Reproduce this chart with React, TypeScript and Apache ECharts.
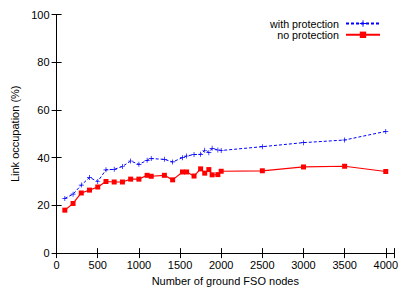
import React, { useEffect, useRef } from "react";
import * as echarts from "echarts";

const xWith = [100, 200, 300, 400, 500, 600, 700, 800, 900, 1000, 1100, 1150, 1310, 1410, 1530, 1580, 1670, 1750, 1800, 1850, 1890, 1960, 2000, 2500, 3000, 3500, 4000];
const withProtection = [22.9, 24.7, 28.5, 31.7, 30.0, 34.9, 35.1, 36.3, 38.6, 37.2, 38.9, 39.6, 39.3, 38.2, 40.0, 40.7, 41.3, 41.4, 43.1, 42.1, 43.9, 43.2, 43.0, 44.6, 46.3, 47.4, 51.0];
const xNo = [100, 200, 300, 400, 500, 600, 700, 800, 900, 1000, 1100, 1150, 1310, 1410, 1530, 1580, 1670, 1750, 1800, 1850, 1890, 1960, 2000, 2500, 3000, 3500, 4000];
const noProtection = [18.0, 20.8, 25.2, 26.4, 27.7, 30.0, 29.8, 29.8, 31.0, 31.0, 32.6, 32.2, 32.6, 30.7, 34.0, 34.0, 32.3, 35.3, 33.5, 35.0, 32.8, 32.9, 34.3, 34.5, 36.1, 36.4, 34.2];

const PLUS = "path://M-1,-0.14H1V0.14H-1Z M-0.14,-1H0.14V1H-0.14Z";
const FONT = "Liberation Sans, Arial, sans-serif";

export default function App() {
  const ref = useRef<HTMLDivElement>(null);
  useEffect(() => {
    if (!ref.current) return;
    const chart = echarts.init(ref.current, undefined, { renderer: "svg" });
    const axisLine = { show: true, lineStyle: { color: "#000", width: 1 } };
    const tick = { show: true, inside: true, length: 5, lineStyle: { color: "#000", width: 1 } };
    const xFmt = (v: number) => (v % 500 === 0 ? String(v) : "");
    chart.setOption({
      animation: false,
      textStyle: { fontFamily: FONT },
      grid: { left: 56.6, right: 21, top: 14.5, bottom: 37, containLabel: false },
      legend: {
        orient: "vertical",
        right: 29,
        top: 13,
        align: "right",
        itemWidth: 34,
        itemHeight: 8,
        itemGap: 0.3,
        textStyle: { fontFamily: FONT, fontSize: 10.7, color: "#000", lineHeight: 10, padding: [0, 2, 0, 0] },
        data: ["with protection", "no protection"],
      },
      xAxis: [
        {
          type: "value",
          min: 0,
          max: 4100,
          interval: 500,
          position: "bottom",
          name: "Number of ground FSO nodes",
          nameLocation: "middle",
          nameGap: 21,
          nameTextStyle: { fontFamily: FONT, fontSize: 11, color: "#000" },
          axisLine,
          axisTick: tick,
          splitLine: { show: false },
          axisLabel: { formatter: xFmt, fontFamily: FONT, fontSize: 11, color: "#000", margin: 6 },
        },
        {
          type: "value",
          min: 0,
          max: 4100,
          interval: 500,
          position: "top",
          axisLine,
          axisTick: tick,
          splitLine: { show: false },
          axisLabel: { show: false },
        },
      ],
      yAxis: [
        {
          type: "value",
          min: 0,
          max: 100,
          interval: 20,
          position: "left",
          name: "Link occupation (%)",
          nameLocation: "middle",
          nameGap: 32,
          nameTextStyle: { fontFamily: FONT, fontSize: 11, color: "#000" },
          axisLine,
          axisTick: tick,
          splitLine: { show: false },
          axisLabel: { fontFamily: FONT, fontSize: 11, color: "#000", margin: 7 },
        },
        {
          type: "value",
          min: 0,
          max: 100,
          interval: 20,
          position: "right",
          axisLine,
          axisTick: tick,
          splitLine: { show: false },
          axisLabel: { show: false },
        },
      ],
      series: [
        {
          name: "with protection",
          type: "line",
          data: xWith.map((x, i) => [x, withProtection[i]]),
          symbol: PLUS,
          symbolSize: 5,
          showAllSymbol: true,
          lineStyle: { color: "#0000ff", width: 1, type: [3, 2] },
          itemStyle: { color: "#0000ff" },
        },
        {
          name: "no protection",
          type: "line",
          data: xNo.map((x, i) => [x, noProtection[i]]),
          symbol: "rect",
          symbolSize: 5,
          showAllSymbol: true,
          lineStyle: { color: "#ff0000", width: 1.2 },
          itemStyle: { color: "#ff0000" },
        },
      ],
    });
    return () => chart.dispose();
  }, []);
  return <div ref={ref} style={{ position: "absolute", left: 0, top: 0, width: 415, height: 291 }} />;
}
